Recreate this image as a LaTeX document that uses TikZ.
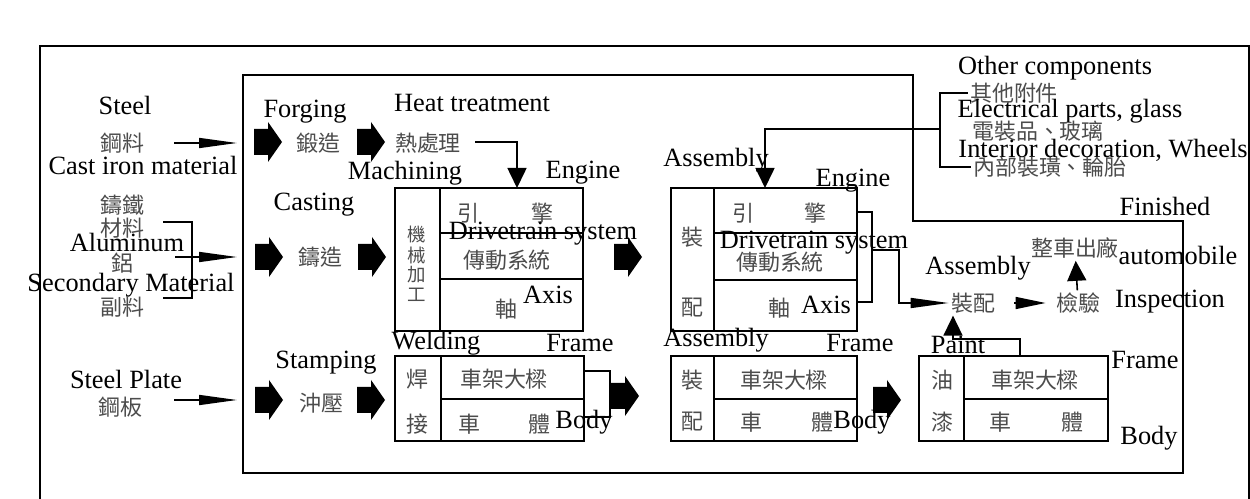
\documentclass[tikz,border=0pt]{standalone}
\usepackage{fontspec}
\setmainfont{Liberation Serif}
\newfontfamily\cjk{Noto Sans CJK TC}
\usetikzlibrary{arrows.meta}

\tikzset{
  en/.style={font=\fontsize{15}{16}\selectfont, inner sep=0pt},
  cn/.style={font=\cjk\fontsize{12.5}{14}\selectfont, text=black!70, inner sep=1pt},
  thinarr/.style={line width=0.9pt, -{Triangle[length=0.76cm,width=0.2cm]}},
  tiparr/.style={line width=0.9pt, -{Triangle[length=0.4cm,width=0.38cm]}},
  pics/bigarrow/.style={code={\fill (-14,-13) -- (0,-13) -- (0,-20) -- (14,0) -- (0,20) -- (0,13) -- (-14,13) -- cycle;}}
}

\begin{document}
\begin{tikzpicture}[x=0.02cm, y=-0.02cm, line width=0.8pt]
\useasboundingbox (0,0) rectangle (1250,499);

% --- frames ---
\draw[line width=1.5pt] (40,499) -- (40,46) -- (1249,46) -- (1249,499);
\draw[line width=1pt] (243,75) -- (913,75) -- (913,221) -- (1183,221) -- (1183,473) -- (243,473) -- cycle;
\coordinate (fleft) at (237,0);

% --- raw materials ---
\node[en] (steel) at (125,105) {Steel};
\node[cn] (steelcn) at (122,143) {鋼料};
\node[en] (castiron) at (143,165) {Cast iron material};
\node[cn] (castcn1) at (122,205) {鑄鐵};
\node[cn] (castcn2) at (122,228) {材料};
\node[en] (alu) at (127,242) {Aluminum};
\node[cn] (alucn) at (122,263) {鋁};
\node[en] (second) at (131,285) {Secondary Material};
\node[cn] (seccn) at (122,307) {副料};
\node[en] (plate) at (126,379) {Steel Plate};
\node[cn] (platecn) at (120,407) {鋼板};

\draw[thinarr, shorten <=0.56cm] (steelcn.east) -- (steelcn.east -| fleft);
\coordinate (b1) at (163,222);
\coordinate (b2) at (163,298);
\coordinate (bm) at (192,257);
\draw (b1) -| (bm) |- (b2);
\draw[thinarr] ([xshift=-0.34cm]bm) -- (bm -| fleft);
\draw[thinarr, shorten <=0.6cm] ([yshift=0.14cm]platecn.east) -- ([yshift=0.14cm]platecn.east -| fleft);

% --- forging / casting / stamping ---
\pic at (268,142) {bigarrow};
\pic at (371,142) {bigarrow};
\pic at (269,257) {bigarrow};
\pic at (372,257) {bigarrow};
\pic at (269,400) {bigarrow};
\pic at (371,400) {bigarrow};

\node[en] (forging) at (305,112) {Forging};
\node[cn] (forgecn) at (318,143) {鍛造};
\node[en] (heat) at (472,103) {Heat treatment};
\node[cn] (heatcn) at (428,143) {熱處理};
\node[en] (casting) at (314,205) {Casting};
\node[cn] (castcn) at (320,257) {鑄造};
\node[en] (stamping) at (326,363) {Stamping};
\node[cn] (stampcn) at (321,403) {沖壓};

% --- machining box ---
\draw (395,188) rectangle (583,331);
\draw (440,188) -- (440,331) (440,233) -- (583,233) (440,279) -- (583,279);
\coordinate (machtop) at (517,188);
\draw[tiparr] (heatcn.east) ++(12,-1) -| (machtop);
\foreach \c [count=\i] in {機,械,加,工}
  \node[cn, font=\cjk\fontsize{10.5}{12}\selectfont] (mach\i) at (417,{215+20*\i}) {\c};
\node[en] (machining) at (405,173) {Machining};
\node[en] (engineA) at (583,173) {Engine};
\node[cn] (engAl) at (468,213) {引};
\node[cn] (engAr) at (542,213) {擎};
\node[en] (driveA) at (543,234) {Drivetrain system};
\node[cn] (driveAcn) at (507,260) {傳動系統};
\node[cn] (axisAcn) at (506,309) {軸};
\node[en] (axisA) at (548,295) {Axis};

\pic at (628,257) {bigarrow};

% --- welding box ---
\draw (395,356) rectangle (584,441);
\draw (441,356) -- (441,441) (441,399) -- (584,399);
\node[en] (welding) at (436,343) {Welding};
\node[en] (frameA) at (580,343) {Frame};
\node[cn] (weld1) at (417,379) {焊};
\node[cn] (weld2) at (417,424) {接};
\node[cn] (frameAcn) at (504,379) {車架大樑};
\node[cn] (bodyAl) at (469,424) {車};
\node[cn] (bodyAr) at (539,424) {體};
\coordinate (wf) at (584,371);
\coordinate (wb) at (584,417);
\coordinate (wj) at (610,394);
\draw (wf) -| (wj) |- (wb);
\node[en] (bodyA) at (584,422) {Body};

\pic at (625,396) {bigarrow};

% --- assembly box (engine) ---
\draw (671,188) rectangle (857,331);
\draw (714,188) -- (714,331) (714,233) -- (857,233) (714,280) -- (857,280);
\coordinate (asmtop) at (765,188);
\node[cn] (asm1a) at (692,237) {裝};
\node[cn] (asm1b) at (692,308) {配};
\node[cn] (engBl) at (743,213) {引};
\node[cn] (engBr) at (815,213) {擎};
\node[cn] (driveBcn) at (780,262) {傳動系統};
\node[cn] (axisBcn) at (779,308) {軸};
\node[en] (asmB) at (716,160) {Assembly};
\node[en] (engineB) at (853,181) {Engine};
\node[en] (driveB) at (814,243) {Drivetrain system};
\node[en] (axisB) at (826,305) {Axis};

% --- other components ---
\node[en] (other) at (1055,68) {Other components};
\node[cn] (othercn) at (1014,93) {其他附件};
\node[en] (elec) at (1070,111) {Electrical parts, glass};
\node[cn] (eleccn) at (1038,131) {電裝品、玻璃};
\node[en] (interior) at (1103,150) {Interior decoration, Wheels};
\node[cn] (intcn) at (1050,167) {內部裝璜、輪胎};
\coordinate (ob) at (940,129);
\draw (othercn.west) -| (ob) (intcn.west) -| (ob);
\draw[tiparr] (ob) -| (asmtop);

% --- final assembly ---
\node[cn] (asmcn) at (973,303) {裝配};
\node[cn] (inspcn) at (1078,303) {檢驗};
\node[cn] (finishcn) at (1075,248) {整車出廠};
\node[en] (asmD) at (978,268) {Assembly};
\node[en] (finished) at (1165,206) {Finished};
\node[en] (automobile) at (1178,255) {automobile};
\node[en] (inspect) at (1170,302) {Inspection};
\coordinate (ar1) at (857,212);
\coordinate (ar2) at (857,302);
\coordinate (arb) at (872,250);
\coordinate (arj) at (899,250);
\draw (ar1) -| (arb) |- (ar2);
\draw[thinarr] (arb) -- (arj) |- (asmcn.west);
\draw[line width=0.9pt, -{Triangle[length=0.6cm,width=0.24cm]}, shorten <=0.34cm, shorten >=0.16cm] (asmcn) -- (inspcn);
\draw[tiparr] (inspcn) -- (finishcn);

% --- assembly box (body) ---
\draw (671,356) rectangle (857,441);
\draw (714,356) -- (714,441) (714,399) -- (857,399);
\node[cn] (asm2a) at (692,380) {裝};
\node[cn] (asm2b) at (692,422) {配};
\node[cn] (frameBcn) at (784,380) {車架大樑};
\node[cn] (bodyBl) at (751,422) {車};
\node[cn] (bodyBr) at (822,422) {體};
\node[en] (asmC) at (716,340) {Assembly};
\node[en] (frameB) at (860,343) {Frame};
\node[en] (bodyB) at (862,422) {Body};

\pic at (887,400) {bigarrow};

% --- paint box ---
\draw (919,356) rectangle (1108,441);
\draw (964,356) -- (964,441) (964,399) -- (1108,399);
\node[cn] (paint1) at (942,380) {油};
\node[cn] (paint2) at (942,422) {漆};
\node[cn] (frameCcn) at (1035,380) {車架大樑};
\node[cn] (bodyCl) at (1000,422) {車};
\node[cn] (bodyCr) at (1072,422) {體};
\node[en] (paint) at (958,345) {Paint};
\node[en] (frameC) at (1145,360) {Frame};
\node[en] (bodyC) at (1149,438) {Body};
\coordinate (painttop) at (1020,356);
\coordinate (pj) at (953,339);
\draw[tiparr] (painttop) |- (pj) -- (pj |- asmcn.south);
\end{tikzpicture}
\end{document}
